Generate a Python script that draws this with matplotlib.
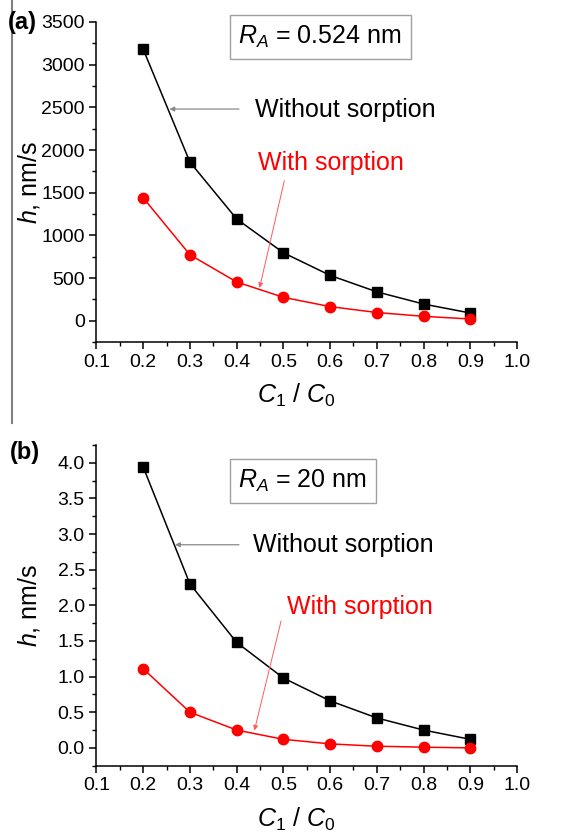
import numpy as np
import matplotlib
matplotlib.use("Agg")
import matplotlib.pyplot as plt
from matplotlib.ticker import MultipleLocator, FormatStrFormatter
from matplotlib.lines import Line2D

plt.rcParams['font.family'] = ['Liberation Sans', 'DejaVu Sans']
plt.rcParams['mathtext.fontset'] = 'custom'
plt.rcParams['mathtext.rm'] = 'Liberation Sans'
plt.rcParams['mathtext.it'] = 'Liberation Sans:italic'

# data
c_ratio = [0.2, 0.3, 0.4, 0.5, 0.6, 0.7, 0.8, 0.9]
h_a_without = [3180, 1858, 1192, 796, 531, 338, 195, 90]
h_a_with = [1440, 772, 454, 274, 165, 96, 51, 20]
h_b_without = [3.94, 2.30, 1.48, 0.98, 0.66, 0.42, 0.25, 0.12]
h_b_with = [1.11, 0.50, 0.25, 0.12, 0.056, 0.023, 0.01, 0.0]

x_ticks = [0.1, 0.2, 0.3, 0.4, 0.5, 0.6, 0.7, 0.8, 0.9, 1.0]
ra_labels = ['$R_A$ = 0.524 nm', '$R_A$ = 20 nm']
panel_labels = ['(a)', '(b)']

fig = plt.figure(figsize=(5.73, 8.33), dpi=100)
ax_a = fig.add_axes([0.1684, 0.5894, 0.7339, 0.3842])
ax_b = fig.add_axes([0.1684, 0.0808, 0.7339, 0.3850])


def style_axes(ax, ylim, ymajor, yfmt):
    ax.set_xlim(0.1, 1.0)
    ax.set_ylim(*ylim)
    ax.spines['top'].set_visible(False)
    ax.spines['right'].set_visible(False)
    for s in ['left', 'bottom']:
        ax.spines[s].set_linewidth(1.1)
    ax.set_xticks(x_ticks)
    ax.set_xticklabels(['%.1f' % v for v in x_ticks])
    ax.xaxis.set_minor_locator(MultipleLocator(0.05))
    ax.yaxis.set_major_locator(MultipleLocator(ymajor))
    ax.yaxis.set_minor_locator(MultipleLocator(ymajor / 2))
    ax.yaxis.set_major_formatter(yfmt)
    ax.tick_params(which='major', direction='out', length=5, width=1.1, labelsize=14)
    ax.tick_params(which='minor', direction='out', length=3, width=1.0)
    ax.set_xlabel('$C_1$ / $C_0$', fontsize=18)
    ax.xaxis.set_label_coords(0.475, -0.125, transform=ax.transAxes)
    ax.set_ylabel('$h$, nm/s', fontsize=18)
    ax.yaxis.set_label_coords(-0.13, 0.5)


def draw(ax, without, with_, ylim, ymajor, yfmt, ra, box_x, box_y):
    ax.plot(c_ratio, without, color='black', lw=1.1, marker='s', ms=6.5, zorder=3)
    ax.plot(c_ratio, with_, color='#ff0000', lw=1.1, marker='o', ms=7.5, zorder=3)
    style_axes(ax, ylim, ymajor, yfmt)
    ax.text(box_x, box_y, ra, transform=ax.transAxes, fontsize=18, ha='center', va='center',
            bbox=dict(boxstyle='square,pad=0.35', fc='white', ec='#a0a0a0', lw=1.0),
            clip_on=False, zorder=5)


draw(ax_a, h_a_without, h_a_with, (-250, 3500), 500, FormatStrFormatter('%d'),
     ra_labels[0], 0.532, 0.953)
draw(ax_b, h_b_without, h_b_with, (-0.25, 4.25), 0.5, FormatStrFormatter('%.1f'),
     ra_labels[1], 0.4905, 0.888)

gray_arrow = dict(arrowstyle='-|>', color='#8a8a8a', lw=0.9, mutation_scale=7, shrinkA=0, shrinkB=0)
red_arrow = dict(arrowstyle='-|>', color='#ff5a5a', lw=0.7, mutation_scale=7, shrinkA=0, shrinkB=0)

# annotations panel (a)
ax_a.text(0.439, 2470, 'Without sorption', fontsize=18, va='center', ha='left', color='black')
ax_a.annotate('', xy=(0.256, 2480), xytext=(0.405, 2480), arrowprops=gray_arrow)
ax_a.text(0.446, 1846, 'With sorption', fontsize=18, va='center', ha='left', color='#ff0000')
ax_a.annotate('', xy=(0.449, 385), xytext=(0.502, 1640), arrowprops=red_arrow)

# annotations panel (b)
ax_b.text(0.435, 2.85, 'Without sorption', fontsize=18, va='center', ha='left', color='black')
ax_b.annotate('', xy=(0.268, 2.85), xytext=(0.405, 2.85), arrowprops=gray_arrow)
ax_b.text(0.508, 1.97, 'With sorption', fontsize=18, va='center', ha='left', color='#ff0000')
ax_b.annotate('', xy=(0.438, 0.245), xytext=(0.495, 1.78), arrowprops=red_arrow)

# panel letters
fig.text(8 / 573, 1 - 22 / 833, panel_labels[0], fontsize=17, fontweight='bold', va='center', ha='left')
fig.text(10 / 573, 1 - 453 / 833, panel_labels[1], fontsize=17, fontweight='bold', va='center', ha='left')

# stray vertical rule on the left of panel (a)
fig.add_artist(Line2D([12 / 573, 12 / 573], [1 - 423 / 833, 1.0], color='#808080', lw=1.5,
                      transform=fig.transFigure))

fig.savefig('out.png', dpi=100)
